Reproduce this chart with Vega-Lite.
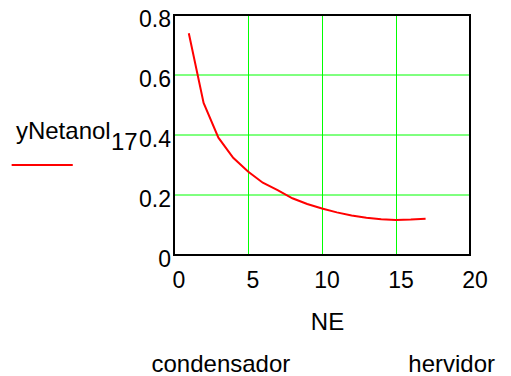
{
  "$schema": "https://vega.github.io/schema/vega-lite/v6.json",
  "width": 296,
  "height": 240,
  "autosize": {"type": "none"},
  "padding": {"left": 174, "top": 15, "right": 41, "bottom": 121},
  "background": "white",
  "config": {
    "font": "Liberation Sans",
    "view": {"stroke": null},
    "axis": {"labelFont": "Liberation Sans", "titleFont": "Liberation Sans", "labelColor": "black", "titleColor": "black"}
  },
  "encoding": {
    "x": {
      "field": "NE", "type": "quantitative",
      "scale": {"domain": [0, 20], "nice": false, "zero": false},
      "axis": {
        "values": [0, 5, 10, 15, 20],
        "domain": false, "ticks": false,
        "labelFontSize": 23, "labelPadding": 32, "labelOffset": 4.5,
        "labelBaseline": "alphabetic",
        "labelFlush": false,
        "grid": true,
        "gridColor": "#00ff00",
        "gridWidth": 1,
        "gridOpacity": 1,
        "title": "NE", "titleFontSize": 24, "titleFontWeight": "normal",
        "titleX": 153, "titleY": 74, "titleAlign": "center", "titleBaseline": "alphabetic"
      }
    },
    "y": {
      "field": "y", "type": "quantitative",
      "scale": {"domain": [0, 0.8], "nice": false},
      "axis": {
        "values": [0, 0.2, 0.4, 0.6, 0.8],
        "format": ".1~f",
        "domain": false, "ticks": false,
        "translate": 0,
        "labelFontSize": 23, "labelPadding": 3, "labelOffset": 5,
        "labelBaseline": "middle",
        "labelFlush": false,
        "grid": true,
        "gridColor": "#00ff00",
        "gridWidth": 1,
        "gridOpacity": 1,
        "title": null
      }
    }
  },
  "layer": [
    {
      "data": {"values": [{"NE": 0, "NE2": 20, "y": 0, "y2": 0.8}]},
      "mark": {"type": "rect", "fill": null, "fillOpacity": 0, "stroke": "black", "strokeWidth": 2},
      "encoding": {
        "x2": {"field": "NE2"},
        "y2": {"field": "y2"}
      }
    },
    {
      "data": {"values": [
        {"NE": 1, "y": 0.739}, {"NE": 2, "y": 0.507}, {"NE": 3, "y": 0.391},
        {"NE": 4, "y": 0.324}, {"NE": 5, "y": 0.278}, {"NE": 6, "y": 0.241},
        {"NE": 7, "y": 0.216}, {"NE": 8, "y": 0.189}, {"NE": 9, "y": 0.170},
        {"NE": 10, "y": 0.155}, {"NE": 11, "y": 0.142}, {"NE": 12, "y": 0.132},
        {"NE": 13, "y": 0.124}, {"NE": 14, "y": 0.119}, {"NE": 15, "y": 0.117},
        {"NE": 16, "y": 0.118}, {"NE": 17, "y": 0.121}
      ]},
      "mark": {"type": "line", "color": "#ff0000", "strokeWidth": 2}
    },
    {
      "data": {"values": [
        {"NE": -10.68, "y": 0.387, "label": "yNetanol"},
        {"NE": -4.26, "y": 0.35, "label": "17"},
        {"NE": -1.52, "y": -0.39, "label": "condensador"},
        {"NE": 15.83, "y": -0.39, "label": "hervidor"}
      ]},
      "mark": {"type": "text", "align": "left", "baseline": "alphabetic", "fontSize": 24, "font": "Liberation Sans", "color": "black"},
      "encoding": {
        "text": {"field": "label"}
      }
    },
    {
      "data": {"values": [{"NE": -10.97, "NE2": -6.84, "y": 0.3}]},
      "mark": {"type": "rule", "color": "#ff0000", "strokeWidth": 2},
      "encoding": {
        "x2": {"field": "NE2"}
      }
    }
  ]
}
